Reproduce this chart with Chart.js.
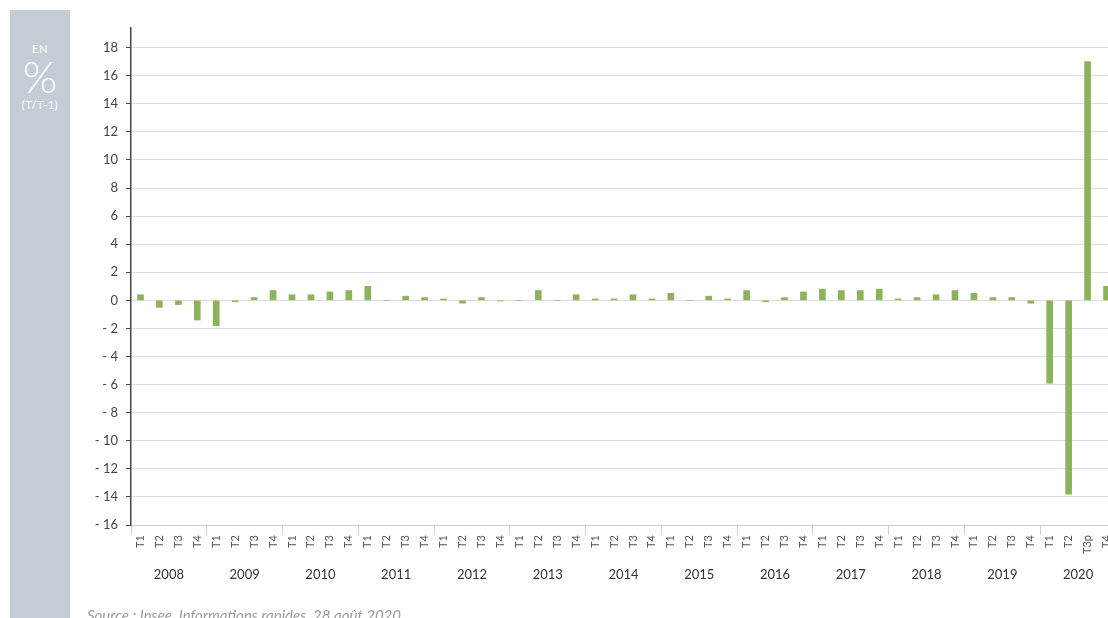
<!DOCTYPE html>
<html>
<head>
<meta charset="utf-8">
<script src="https://cdn.jsdelivr.net/npm/chart.js@4/dist/chart.umd.min.js"></script>
<style>
  html, body { margin: 0; padding: 0; width: 1108px; height: 618px; overflow: hidden; background: #fff; }
  #panel { position: absolute; left: 10px; top: 10px; width: 60px; height: 700px; background: #c4cdd5; color: #fff; font-family: Lato, sans-serif; text-align: center; z-index: 0; }
  #panel .en { position: absolute; top: 32px; left: 0; width: 60px; font-size: 11px; letter-spacing: 0.5px; }
  #panel .pct { position: absolute; top: 44px; left: 0; width: 60px; font-size: 44px; font-weight: 300; line-height: 44px; }
  #panel .tt { position: absolute; top: 88px; left: 0; width: 60px; font-size: 11px; letter-spacing: 0.5px; }
  #chart { position: absolute; left: 0; top: 0; z-index: 1; }
  #source { position: absolute; left: 87px; top: 606px; font-family: Lato, sans-serif; font-style: italic; font-size: 15px; color: #9a9a9a; white-space: nowrap; z-index: 2; }
</style>
</head>
<body>
<div id="panel"><div class="en">EN</div><div class="pct">%</div><div class="tt">(T/T-1)</div></div>
<canvas id="chart" width="1130" height="618"></canvas>
<div id="source">Source : Insee, Informations rapides, 28 août 2020</div>
<script>
const years = ['2008','2009','2010','2011','2012','2013','2014','2015','2016','2017','2018','2019','2020'];
const quarterLabels = [
  'T1','T2','T3','T4', 'T1','T2','T3','T4', 'T1','T2','T3','T4', 'T1','T2','T3','T4',
  'T1','T2','T3','T4', 'T1','T2','T3','T4', 'T1','T2','T3','T4', 'T1','T2','T3','T4',
  'T1','T2','T3','T4', 'T1','T2','T3','T4', 'T1','T2','T3','T4', 'T1','T2','T3','T4',
  'T1','T2','T3p','T4'
];
const growth = [
  0.4, -0.5, -0.3, -1.4,
  -1.8, -0.1, 0.2, 0.7,
  0.4, 0.4, 0.6, 0.7,
  1.0, 0.0, 0.3, 0.2,
  0.1, -0.2, 0.2, -0.05,
  0.0, 0.7, 0.0, 0.4,
  0.1, 0.1, 0.4, 0.1,
  0.5, 0.0, 0.3, 0.1,
  0.7, -0.1, 0.2, 0.6,
  0.8, 0.7, 0.7, 0.8,
  0.1, 0.2, 0.4, 0.7,
  0.5, 0.2, 0.2, -0.2,
  -5.9, -13.8, 17.0, 1.0
];
const yTicks = [-16,-14,-12,-10,-8,-6,-4,-2,0,2,4,6,8,10,12,14,16,18];

new Chart(document.getElementById('chart'), {
  type: 'bar',
  data: {
    labels: quarterLabels,
    datasets: [{
      data: growth,
      backgroundColor: '#8db35a',
      barThickness: 6,
      xAxisID: 'x',
      yAxisID: 'y'
    }]
  },
  options: {
    responsive: false,
    animation: false,
    devicePixelRatio: 1,
    layout: { padding: { left: 80, right: 14, top: 28, bottom: 28 } },
    plugins: { legend: { display: false }, tooltip: { enabled: false } },
    scales: {
      x: {
        type: 'category',
        position: 'bottom',
        offset: true,
        grid: {
          offset: true,
          drawOnChartArea: false,
          drawTicks: true,
          tickLength: 10,
          color: (c) => (c.index % 4 === 0 ? '#cfcfcf' : 'rgba(0,0,0,0)')
        },
        border: { display: true, color: '#cfcfcf', width: 1 },
        ticks: {
          autoSkip: false,
          minRotation: 90,
          maxRotation: 90,
          padding: 0,
          color: '#555',
          font: { family: 'Lato', size: 11 }
        },
        afterFit: (s) => { s.height = 35; }
      },
      x2: {
        type: 'category',
        position: 'bottom',
        labels: years,
        offset: true,
        grid: { display: false, drawTicks: false },
        border: { display: false },
        ticks: {
          autoSkip: false,
          maxRotation: 0,
          minRotation: 0,
          padding: 7,
          color: '#333',
          font: { family: 'Lato', size: 13 }
        },
        afterFit: (s) => { s.height = 30; }
      },
      y: {
        min: -16,
        max: 19.4,
        afterBuildTicks: (s) => { s.ticks = yTicks.map(v => ({ value: v })); },
        grid: { color: '#dcdcdc', lineWidth: 1, tickColor: '#444', tickLength: 5 },
        border: { display: true, color: '#444', width: 1.5 },
        ticks: {
          padding: 8,
          color: '#444',
          font: { family: 'Lato', size: 13 },
          callback: (v) => (v < 0 ? '- ' + Math.abs(v) : String(v))
        },
        afterFit: (s) => { s.width = 51; }
      }
    }
  }
});
</script>
</body>
</html>
